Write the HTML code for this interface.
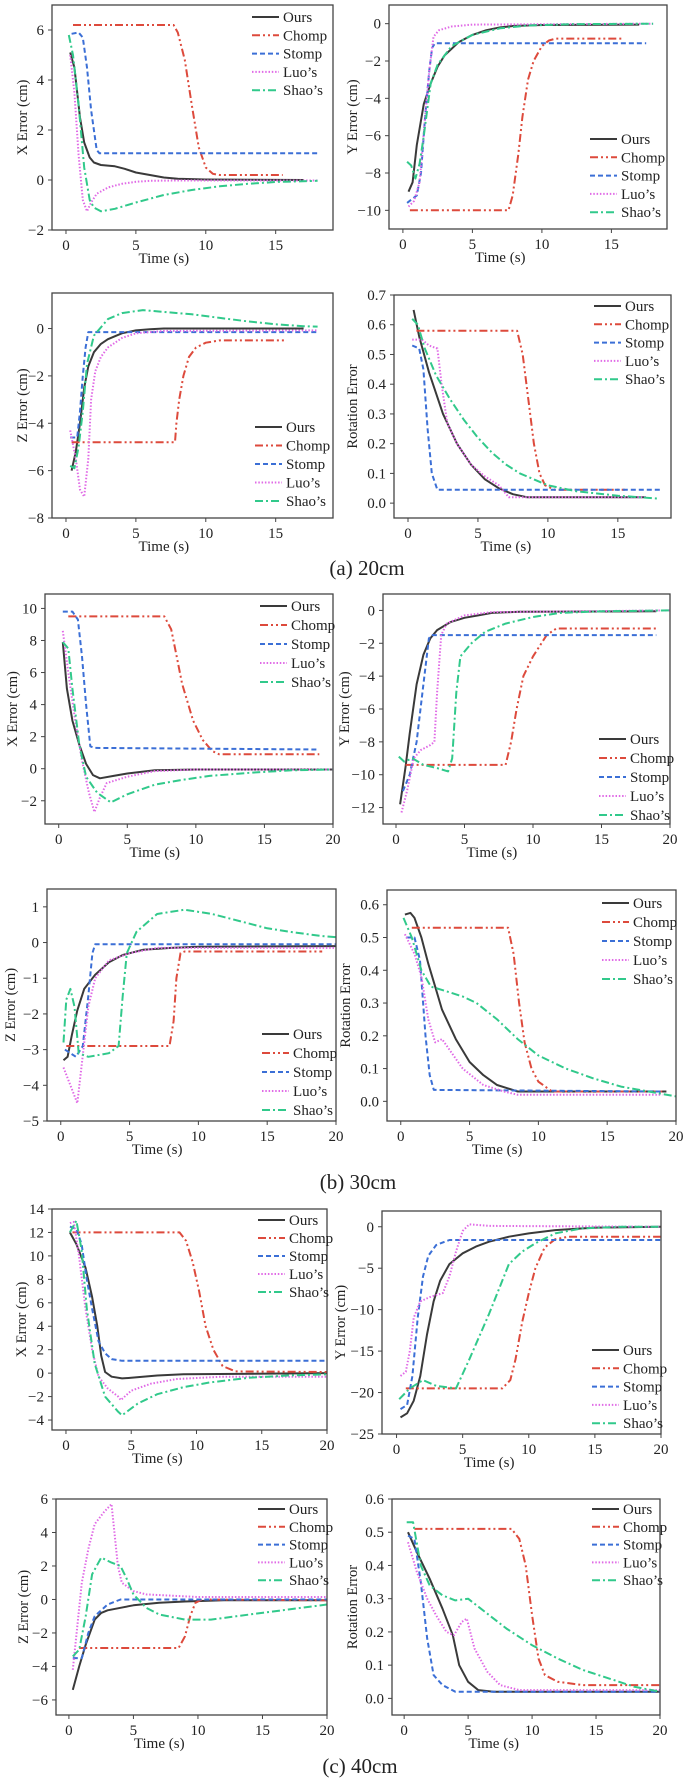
<!DOCTYPE html>
<html><head><meta charset="utf-8">
<style>
html,body{margin:0;padding:0;background:#fff;}
svg{display:block;font-family:"Liberation Serif",serif;}
</style></head>
<body>
<svg id="fig" width="685" height="1784" viewBox="0 0 685 1784">
<text x="367" y="575" font-size="21" text-anchor="middle" fill="#222">(a) 20cm</text>
<text x="358" y="1189" font-size="21" text-anchor="middle" fill="#222">(b) 30cm</text>
<text x="360" y="1773" font-size="21" text-anchor="middle" fill="#222">(c) 40cm</text>
</svg>
<script>
const seriesNames=["Ours","Chomp","Stomp","Luo’s","Shao’s"];
// (a) 20cm
const aX_ours=[[0.3,5.1],[0.6,4.5],[1,2.5],[1.3,1.5],[1.7,0.9],[2,0.7],[2.5,0.6],[3.5,0.55],[4.2,0.45],[5,0.3],[6,0.2],[7,0.1],[8,0.05],[10,0.02],[17,0]];
const aX_chomp=[[0.5,6.2],[7.7,6.2],[8,5.9],[8.5,4.8],[9,3],[9.5,1.3],[10,0.5],[10.5,0.25],[11,0.2],[15.5,0.2]];
const aX_stomp=[[0.4,5.85],[0.9,5.9],[1.2,5.7],[1.5,4.5],[1.8,2.8],[2.2,1.2],[2.4,1.07],[18,1.07]];
const aX_luo=[[0.3,5],[0.6,3.5],[0.9,1],[1.2,-0.8],[1.5,-1.25],[1.8,-0.9],[2.2,-0.55],[3,-0.3],[4,-0.15],[5,-0.07],[6,-0.03],[8,-0.02],[18,-0.02]];
const aX_shao=[[0.2,5.8],[0.5,5],[0.9,3],[1.3,0.5],[1.7,-0.8],[2,-1.1],[2.5,-1.25],[3.5,-1.15],[5,-0.9],[7,-0.6],[9,-0.4],[11,-0.25],[13,-0.15],[15,-0.08],[18,-0.03]];
const aY_ours=[[0.4,-9],[0.7,-8.5],[1,-6.5],[1.5,-4.3],[2,-3.2],[2.5,-2.3],[3,-1.7],[4,-1],[5,-0.6],[6,-0.35],[7,-0.2],[8,-0.12],[10,-0.07],[17,-0.05]];
const aY_chomp=[[0.5,-10],[7.6,-10],[7.9,-9.2],[8.3,-7],[8.6,-5],[9,-3],[9.4,-2],[10,-1.2],[10.5,-0.9],[11,-0.8],[15.8,-0.8]];
const aY_stomp=[[0.3,-9.6],[1,-9.2],[1.3,-8],[1.6,-5],[1.9,-2.5],[2.1,-1.3],[2.3,-1.05],[17.5,-1.05]];
const aY_luo=[[0.4,-9.8],[0.8,-9.5],[1.2,-8.5],[1.6,-5],[1.9,-2.5],[2.2,-0.7],[2.6,-0.35],[3.5,-0.15],[5,-0.05],[18,0]];
const aY_shao=[[0.3,-7.4],[0.6,-7.6],[0.9,-8.3],[1.2,-7.5],[1.5,-6],[2,-3.2],[2.5,-2.2],[3.5,-1.2],[5,-0.6],[7,-0.25],[9,-0.1],[12,-0.03],[18,0]];
const aZ_ours=[[0.4,-6],[0.7,-5.2],[1,-4],[1.3,-2.5],[1.6,-1.6],[2,-1],[2.5,-0.65],[3,-0.45],[4,-0.2],[5,-0.08],[6,-0.03],[7,0],[17,0]];
const aZ_chomp=[[0.4,-4.8],[7.8,-4.8],[7.9,-4],[8.1,-3],[8.4,-2],[8.8,-1.2],[9.3,-0.8],[10,-0.6],[11,-0.5],[15.8,-0.5]];
const aZ_stomp=[[0.3,-4.6],[0.8,-4.6],[1,-3.5],[1.2,-2],[1.4,-0.8],[1.6,-0.15],[18,-0.15]];
const aZ_luo=[[0.3,-4.3],[0.7,-5.5],[1,-6.8],[1.3,-7.1],[1.6,-5.5],[1.8,-3],[2.1,-1.8],[2.5,-1.2],[3,-0.8],[4,-0.4],[5,-0.2],[7,-0.1],[18,-0.08]];
const aZ_shao=[[0.3,-5.8],[0.6,-5.9],[0.9,-5],[1.2,-3.5],[1.5,-1.5],[2,-0.3],[3,0.4],[4,0.65],[5.5,0.78],[7,0.7],[9,0.6],[11,0.45],[13,0.3],[15,0.18],[17,0.1],[18,0.08]];
const aR_ours=[[0.4,0.65],[0.8,0.56],[1.5,0.44],[2.5,0.3],[3.5,0.2],[4.5,0.13],[5.5,0.08],[6.5,0.05],[7.5,0.03],[8.5,0.02],[17,0.02]];
const aR_chomp=[[0.6,0.58],[7.8,0.58],[8.2,0.5],[8.6,0.35],[9,0.2],[9.4,0.1],[9.8,0.06],[10.5,0.045],[15.5,0.045]];
const aR_stomp=[[0.3,0.53],[0.8,0.52],[1.1,0.45],[1.4,0.25],[1.7,0.1],[2.1,0.045],[18,0.045]];
const aR_luo=[[0.3,0.55],[1,0.55],[1.5,0.53],[2.1,0.52],[2.4,0.4],[2.8,0.27],[3.5,0.2],[4.5,0.13],[5.5,0.09],[6.5,0.06],[7.2,0.02],[17,0.02]];
const aR_shao=[[0.3,0.62],[0.7,0.6],[1.2,0.52],[2,0.43],[3,0.35],[4,0.28],[5,0.22],[6,0.17],[7,0.13],[8,0.1],[10,0.06],[12,0.04],[15,0.025],[18,0.015]];
// (b) 30cm
const bX_ours=[[0.3,7.9],[0.6,5],[1,3],[1.5,1.5],[2,0.3],[2.5,-0.4],[3,-0.6],[4,-0.45],[5,-0.3],[7,-0.1],[10,-0.05],[20,-0.05]];
const bX_chomp=[[0.7,9.5],[7.7,9.5],[8.2,8.7],[8.6,7],[9,5.3],[9.8,3],[10.5,1.8],[11.2,1.1],[11.7,0.9],[19,0.9]];
const bX_stomp=[[0.3,9.8],[1,9.8],[1.4,9.3],[1.7,7],[2,4],[2.3,1.4],[2.6,1.3],[19,1.2]];
const bX_luo=[[0.3,8.6],[0.7,6],[1.2,3],[1.7,0.5],[2.2,-1.5],[2.6,-2.7],[3,-1.8],[3.5,-0.9],[5,-0.5],[7,-0.15],[10,-0.05],[20,-0.05]];
const bX_shao=[[0.3,7.9],[0.7,7.5],[1,5],[1.5,1.5],[2,-0.5],[2.8,-1.5],[3.8,-2.1],[5,-1.6],[7,-1],[9,-0.7],[11,-0.45],[14,-0.25],[17,-0.1],[20,-0.05]];
const bY_ours=[[0.3,-11.8],[0.7,-9.5],[1,-7.5],[1.5,-4.5],[2,-2.7],[2.5,-1.7],[3,-1.2],[4,-0.7],[5,-0.45],[6,-0.3],[7,-0.15],[9,-0.08],[19,-0.05]];
const bY_chomp=[[0.7,-9.4],[8,-9.4],[8.4,-8],[8.8,-6],[9.3,-4],[10,-2.8],[11,-1.5],[11.7,-1.1],[19,-1.1]];
const bY_stomp=[[0.5,-11],[1,-10],[1.5,-8],[2,-4.5],[2.4,-1.7],[2.6,-1.5],[19,-1.5]];
const bY_luo=[[0.4,-12.3],[0.8,-11],[1.3,-9],[1.8,-8.5],[2.5,-8.2],[2.8,-8],[3,-5],[3.3,-1.5],[3.7,-0.8],[5,-0.3],[7,-0.1],[20,0]];
const bY_shao=[[0.2,-8.9],[0.6,-9.2],[1.2,-9],[2,-9.4],[3,-9.6],[3.8,-9.8],[4.1,-9],[4.4,-5],[4.7,-2.8],[5.5,-2],[6.5,-1.3],[8,-0.8],[10,-0.4],[12,-0.15],[15,-0.05],[20,0]];
const bZ_ours=[[0.2,-3.3],[0.5,-3.2],[0.8,-2.6],[1.2,-1.9],[1.7,-1.3],[2.5,-0.9],[3.5,-0.55],[4.5,-0.35],[6,-0.2],[8,-0.15],[10,-0.12],[20,-0.1]];
const bZ_chomp=[[0.4,-2.9],[7.9,-2.9],[8.2,-2.2],[8.4,-1],[8.7,-0.3],[9,-0.25],[19,-0.25]];
const bZ_stomp=[[0.3,-3],[1.1,-3.2],[1.6,-2.9],[2,-1.5],[2.3,-0.3],[2.5,-0.05],[20,-0.05]];
const bZ_luo=[[0.2,-3.5],[0.7,-4],[1.2,-4.5],[1.5,-3.5],[2,-1.8],[2.5,-1],[3.5,-0.5],[5,-0.3],[7,-0.15],[20,-0.15]];
const bZ_shao=[[0.2,-2.8],[0.4,-1.6],[0.7,-1.3],[1,-1.8],[1.3,-3.1],[2,-3.2],[3.5,-3.1],[4.2,-2.9],[4.5,-1.5],[4.8,-0.3],[5.5,0.3],[7,0.8],[9,0.92],[11,0.8],[13,0.6],[15,0.4],[17,0.28],[19,0.18],[20,0.15]];
const bR_ours=[[0.3,0.57],[0.7,0.575],[1,0.56],[1.5,0.5],[2,0.42],[2.5,0.35],[3,0.28],[4,0.19],[5,0.12],[6,0.08],[7,0.05],[8.5,0.03],[19.3,0.03]];
const bR_chomp=[[0.8,0.53],[7.8,0.53],[8.2,0.45],[8.6,0.3],[9,0.18],[9.5,0.1],[10,0.06],[11,0.03],[19,0.03]];
const bR_stomp=[[0.4,0.5],[1,0.5],[1.4,0.43],[1.8,0.2],[2.1,0.08],[2.4,0.035],[19,0.03]];
const bR_luo=[[0.3,0.51],[1,0.45],[1.5,0.38],[2,0.25],[2.5,0.18],[3,0.19],[3.5,0.16],[4.5,0.1],[6,0.05],[7.5,0.03],[8.5,0.02],[19,0.02]];
const bR_shao=[[0.2,0.56],[0.8,0.5],[1.5,0.4],[2.2,0.35],[3,0.34],[4.5,0.32],[5.5,0.3],[7,0.25],[8.5,0.19],[10,0.14],[12,0.1],[14,0.07],[16,0.045],[18,0.03],[20,0.015]];
// (c) 40cm
const cX_ours=[[0.3,12],[0.8,11],[1.5,9],[2,6.5],[2.4,4],[2.7,1.5],[3,0.1],[3.5,-0.3],[4.3,-0.45],[5,-0.4],[7,-0.2],[9,-0.1],[20,0]];
const cX_chomp=[[0.5,12],[8.7,12],[9.2,11.3],[9.7,9.5],[10.2,7],[10.7,4],[11.3,2],[12,0.6],[13,0.15],[20,0.1]];
const cX_stomp=[[0.3,12.5],[0.8,12.3],[1.2,11],[1.6,8],[2,5.5],[2.5,2.7],[3,1.7],[3.5,1.2],[4.3,1.05],[20,1.05]];
const cX_luo=[[0.3,12.8],[0.6,12.9],[1,10],[1.5,5.5],[2,2],[2.5,-0.3],[3.2,-1.3],[4,-2],[4.2,-2.3],[5,-1.5],[6.5,-0.9],[8.5,-0.5],[12,-0.3],[20,-0.3]];
const cX_shao=[[0.3,12],[0.8,13],[1.2,10.5],[1.6,5.5],[2.2,0.8],[3,-2],[4,-3.3],[4.3,-3.6],[5.5,-2.6],[7,-1.8],[9,-1.2],[11,-0.8],[14,-0.4],[17,-0.2],[20,-0.1]];
const cY_ours=[[0.3,-23],[0.8,-22.5],[1.3,-21],[1.8,-18],[2.3,-13],[2.8,-9],[3.3,-6.5],[4,-4.5],[5,-3.2],[6,-2.4],[7,-1.8],[8.5,-1.2],[10,-0.8],[12,-0.4],[15,-0.1],[20,0]];
const cY_chomp=[[0.7,-19.5],[8,-19.5],[8.6,-18.5],[9,-16],[9.5,-11.5],[10,-8],[10.5,-5],[11.2,-2.5],[12,-1.5],[13,-1.2],[20,-1.2]];
const cY_stomp=[[0.3,-22],[0.8,-21.5],[1.2,-18],[1.6,-11],[2,-6],[2.4,-3.5],[3,-2.2],[4,-1.6],[20,-1.6]];
const cY_luo=[[0.3,-18],[0.7,-17.5],[1,-15],[1.3,-11],[1.8,-9],[2.5,-8.5],[3.5,-8],[4,-6],[4.5,-3],[5,-0.5],[5.5,0.3],[7,0.1],[20,0]];
const cY_shao=[[0.2,-20.8],[1,-19.5],[2,-18.5],[3,-19.2],[4.5,-19.5],[5.5,-16],[7,-10.5],[8.5,-4.5],[9.5,-3],[10.5,-2],[12,-0.8],[14,-0.2],[17,0],[20,0]];
const cZ_ours=[[0.3,-5.4],[0.8,-4],[1.3,-2.7],[2,-1.2],[2.5,-0.8],[3,-0.65],[4,-0.5],[5,-0.35],[7,-0.2],[9,-0.12],[12,-0.05],[20,-0.05]];
const cZ_chomp=[[0.8,-2.9],[8.5,-2.9],[9,-2.2],[9.4,-1],[9.8,-0.2],[10.3,0],[20,-0.05]];
const cZ_stomp=[[0.3,-3.5],[1,-3.5],[1.5,-2],[2,-1],[3,-0.3],[4,0],[20,0]];
const cZ_luo=[[0.3,-4.2],[0.6,-2],[1,1],[1.5,3],[2,4.5],[2.7,5.2],[3.3,5.7],[3.8,2],[4.1,1],[5,0.5],[6,0.3],[10,0.15],[20,0.15]];
const cZ_shao=[[0.3,-3.4],[0.8,-3],[1.3,-1],[1.8,1.5],[2.5,2.5],[3.3,2.2],[4,2],[4.5,1.2],[5,0.3],[6,-0.5],[7,-0.9],[9,-1.2],[11,-1.2],[14,-0.9],[17,-0.6],[20,-0.3]];
const cR_ours=[[0.3,0.5],[1,0.44],[2,0.36],[3,0.27],[3.8,0.19],[4.3,0.1],[5,0.05],[5.8,0.025],[7,0.02],[20,0.02]];
const cR_chomp=[[0.8,0.51],[8.4,0.51],[9,0.48],[9.5,0.4],[10,0.25],[10.5,0.12],[11,0.07],[12,0.05],[14,0.04],[20,0.04]];
const cR_stomp=[[0.3,0.49],[0.8,0.48],[1.3,0.35],[1.8,0.18],[2.3,0.07],[3,0.04],[4,0.02],[20,0.02]];
const cR_luo=[[0.3,0.47],[1,0.38],[1.8,0.3],[2.5,0.25],[3.3,0.2],[3.9,0.19],[4.5,0.23],[4.9,0.24],[5.5,0.15],[6.5,0.08],[7.5,0.04],[9,0.025],[20,0.025]];
const cR_shao=[[0.2,0.53],[0.7,0.53],[1.3,0.4],[2,0.34],[3,0.31],[4,0.295],[5,0.3],[6,0.27],[8,0.21],[10,0.16],[12,0.12],[14,0.085],[16,0.06],[18,0.035],[20,0.02]];

const xTicks18=[0,5,10,15];
const xTicks20=[0,5,10,15,20];
const yTicks_aX=[-2,0,2,4,6];
const yTicks_aY=[-10,-8,-6,-4,-2,0];
const yTicks_aZ=[-8,-6,-4,-2,0];
const yTicks_aR=[0,0.1,0.2,0.3,0.4,0.5,0.6,0.7];
const yTicks_bX=[-2,0,2,4,6,8,10];
const yTicks_bY=[-12,-10,-8,-6,-4,-2,0];
const yTicks_bZ=[-5,-4,-3,-2,-1,0,1];
const yTicks_bR=[0,0.1,0.2,0.3,0.4,0.5,0.6];
const yTicks_cX=[-4,-2,0,2,4,6,8,10,12,14];
const yTicks_cY=[-25,-20,-15,-10,-5,0];
const yTicks_cZ=[-6,-4,-2,0,2,4,6];
const yTicks_cR=[0,0.1,0.2,0.3,0.4,0.5,0.6];

const styles=[
 {c:"#3a3a3a",d:"",w:2},
 {c:"#dd4a3c",d:"8,3,2,3,2,3",w:2},
 {c:"#3b6fd6",d:"5,3",w:2},
 {c:"#e06ae6",d:"1.5,1.8",w:2},
 {c:"#31c98b",d:"8,3,2,3",w:2}
];

const panels=[
 {id:"a-x",x0:52,x1:333,y0:5,y1:230,xl:[-1,19.1],yl:[-2,7],xt:xTicks18,yt:yTicks_aX,lab:"X Error (cm)",labX:27,leg:[252,17,18.3],s:[aX_ours,aX_chomp,aX_stomp,aX_luo,aX_shao]},
 {id:"a-y",x0:389,x1:667,y0:5,y1:229,xl:[-1,19],yl:[-11,1],xt:xTicks18,yt:yTicks_aY,lab:"Y Error (cm)",labX:357,leg:[590,139,18.3],s:[aY_ours,aY_chomp,aY_stomp,aY_luo,aY_shao]},
 {id:"a-z",x0:52,x1:333,y0:293,y1:518,xl:[-1,19.1],yl:[-8,1.5],xt:xTicks18,yt:yTicks_aZ,lab:"Z Error (cm)",labX:27,leg:[255,427,18.5],s:[aZ_ours,aZ_chomp,aZ_stomp,aZ_luo,aZ_shao]},
 {id:"a-rot",x0:394,x1:671,y0:295,y1:518,xl:[-1,18.8],yl:[-0.05,0.7],xt:xTicks18,yt:yTicks_aR,lab:"Rotation Error",labX:357,leg:[594,306,18.3],dec:1,s:[aR_ours,aR_chomp,aR_stomp,aR_luo,aR_shao]},
 {id:"b-x",x0:45,x1:333,y0:594,y1:824,xl:[-1,20],yl:[-3.45,10.9],xt:xTicks20,yt:yTicks_bX,lab:"X Error (cm)",labX:17,leg:[260,606,19],s:[bX_ours,bX_chomp,bX_stomp,bX_luo,bX_shao]},
 {id:"b-y",x0:383,x1:670,y0:594,y1:824,xl:[-0.95,20],yl:[-13,1],xt:xTicks20,yt:yTicks_bY,lab:"Y Error (cm)",labX:349,leg:[599,739,19],s:[bY_ours,bY_chomp,bY_stomp,bY_luo,bY_shao]},
 {id:"b-z",x0:47,x1:336,y0:889,y1:1121,xl:[-1,20],yl:[-5,1.5],xt:xTicks20,yt:yTicks_bZ,lab:"Z Error (cm)",labX:15,leg:[262,1034,19],s:[bZ_ours,bZ_chomp,bZ_stomp,bZ_luo,bZ_shao]},
 {id:"b-rot",x0:387,x1:676,y0:890,y1:1121,xl:[-1,20],yl:[-0.06,0.645],xt:xTicks20,yt:yTicks_bR,lab:"Rotation Error",labX:350,leg:[602,903,19],dec:1,s:[bR_ours,bR_chomp,bR_stomp,bR_luo,bR_shao]},
 {id:"c-x",x0:52,x1:327,y0:1209,y1:1430,xl:[-1.07,20],yl:[-4.85,14],xt:xTicks20,yt:yTicks_cX,lab:"X Error (cm)",labX:26,leg:[258,1220,18],s:[cX_ours,cX_chomp,cX_stomp,cX_luo,cX_shao]},
 {id:"c-y",x0:382,x1:661,y0:1211,y1:1434,xl:[-1.1,20],yl:[-25,1.9],xt:xTicks20,yt:yTicks_cY,lab:"Y Error (cm)",labX:345,leg:[592,1350,18.3],s:[cY_ours,cY_chomp,cY_stomp,cY_luo,cY_shao]},
 {id:"c-z",x0:56,x1:327,y0:1499,y1:1715,xl:[-1,20],yl:[-6.9,6],xt:xTicks20,yt:yTicks_cZ,lab:"Z Error (cm)",labX:28,leg:[258,1509,17.8],s:[cZ_ours,cZ_chomp,cZ_stomp,cZ_luo,cZ_shao]},
 {id:"c-rot",x0:392,x1:660,y0:1499,y1:1715,xl:[-0.95,20],yl:[-0.05,0.6],xt:xTicks20,yt:yTicks_cR,lab:"Rotation Error",labX:357,leg:[592,1509,17.8],dec:1,s:[cR_ours,cR_chomp,cR_stomp,cR_luo,cR_shao]}
];

const NS="http://www.w3.org/2000/svg";
const svg=document.getElementById("fig");
function mk(tag,attrs,parent){const e=document.createElementNS(NS,tag);for(const k in attrs)e.setAttribute(k,attrs[k]);(parent||svg).appendChild(e);return e;}
function fmt(v){return (v<0?"\u2212":"")+Math.abs(v);}

panels.forEach(p=>{
 const g=mk("g",{});
 
 
 const xs=t=>p.x0+(t-p.xl[0])/(p.xl[1]-p.xl[0])*(p.x1-p.x0);
 const ys=v=>p.y1-(v-p.yl[0])/(p.yl[1]-p.yl[0])*(p.y1-p.y0);
 const cid="clip-"+p.id;
 const cp=mk("clipPath",{id:cid},g);
 mk("rect",{x:p.x0,y:p.y0,width:p.x1-p.x0,height:p.y1-p.y0},cp);
 p.s.forEach((pts,i)=>{
  const st=styles[i];
  const path=mk("path",{d:pts.map((q,j)=>(j?"L":"M")+xs(q[0]).toFixed(1)+","+ys(q[1]).toFixed(1)).join(""),fill:"none",stroke:st.c,"stroke-width":st.w,"stroke-dasharray":st.d,"stroke-linejoin":"round","clip-path":"url(#"+cid+")"},g);
  
  
 });
 const fr=mk("rect",{x:p.x0,y:p.y0,width:p.x1-p.x0,height:p.y1-p.y0,fill:"none",stroke:"#444","stroke-width":1.3},g);
 
 
 p.xt.forEach(t=>{
  const x=xs(t);
  mk("line",{x1:x,x2:x,y1:p.y1,y2:p.y1+4,stroke:"#444","stroke-width":1},g);
  const tl=mk("text",{x:x,y:p.y1+20,"font-size":15,"text-anchor":"middle",fill:"#222"},g);
  tl.textContent=t;
  
  
 });
 const xt=mk("text",{x:xs(7),y:p.y1+33,"font-size":15,"text-anchor":"middle",fill:"#222"},g);
 xt.textContent="Time (s)";
 
 
 p.yt.forEach(v=>{
  const y=ys(v);
  mk("line",{x1:p.x0-4,x2:p.x0,y1:y,y2:y,stroke:"#444","stroke-width":1},g);
  const tl=mk("text",{x:p.x0-8,y:y+5,"font-size":15,"text-anchor":"end",fill:"#222"},g);
  tl.textContent=p.dec?v.toFixed(1):fmt(v);
  
  
 });
 const cy=(p.y0+p.y1)/2;
 const yt=mk("text",{x:p.labX,y:cy,"font-size":14.5,"text-anchor":"middle",fill:"#222",transform:"rotate(-90 "+p.labX+" "+cy+")"},g);
 yt.textContent=p.lab;
 
 
 const lg=mk("g",{},g);
 
 
 seriesNames.forEach((n,i)=>{
  const y=p.leg[1]+i*p.leg[2];
  const st=styles[i];
  const ent=mk("g",{},lg);
  
  
  mk("line",{x1:p.leg[0],x2:p.leg[0]+27,y1:y,y2:y,stroke:st.c,"stroke-width":st.w,"stroke-dasharray":st.d},ent);
  const t=mk("text",{x:p.leg[0]+31,y:y+5,"font-size":15,fill:"#222"},ent);
  t.textContent=n;
 });
});
</script>
</body></html>
